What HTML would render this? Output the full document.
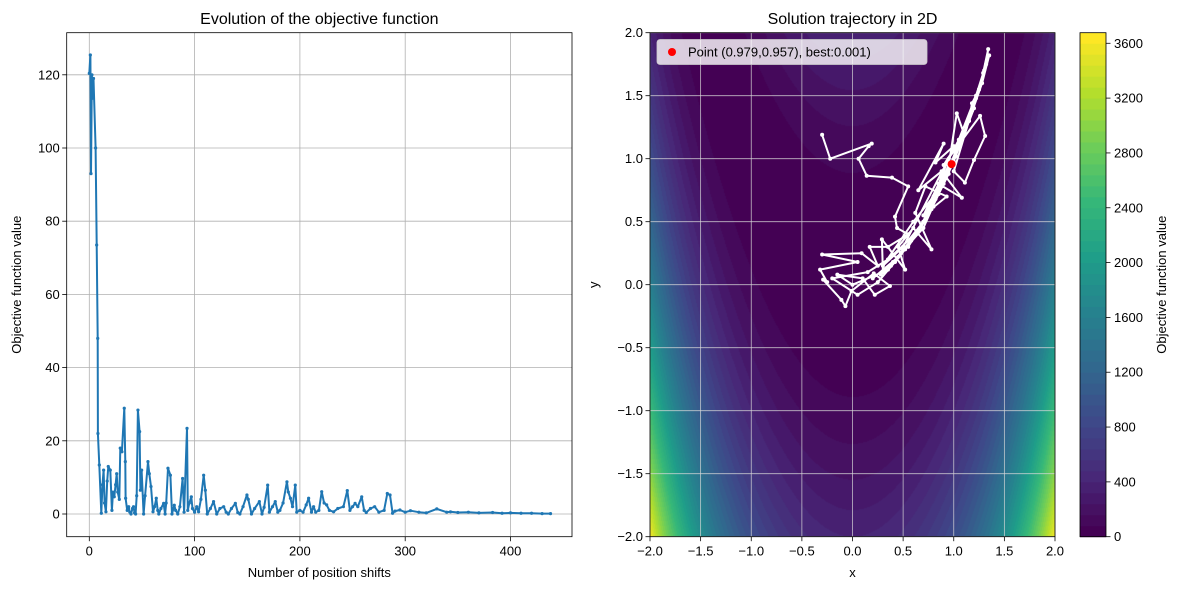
<!DOCTYPE html>
<html><head><meta charset="utf-8">
<style>
html,body{margin:0;padding:0;background:#fff;}
#wrap{position:relative;width:1179px;height:590px;overflow:hidden;font-family:"Liberation Sans","DejaVu Sans",sans-serif;}
canvas{position:absolute;left:650px;top:33px;}
svg{position:absolute;left:0;top:0;}
text{font-family:"Liberation Sans","DejaVu Sans",sans-serif;fill:#000;}
</style></head>
<body>
<div id="wrap">
<canvas id="cv" width="405" height="504"></canvas>
<svg id="sv" width="1179" height="590"></svg>
</div>
<script>
// ---- Left chart data ----
const iterIdx = [0,1,1.6,2.5,3,4,6,7,8,8.2,9.5,11.4,12.5,13.6,14.5,15.8,17,18,19.9,21.5,22.5,23.7,25,26,27,28.5,29.4,31,33.2,34.2,34.5,36,37.4,38.5,39.6,41,42,43,44,45,46.2,47.8,48.5,49.7,51.6,53,55.7,57,58.6,60.5,62,63.6,65,66,68,70.6,72,73,74.7,77,78.5,80.7,82,84,86,88.6,90,92.8,93.5,95,96.9,98,100,102,103.8,106,108.6,110.2,112,115,118,121,124,127.6,130,132,135,138.7,141,143,146,149.7,151,154,157,161.5,164,166,169.4,171,174,176.6,179,181,184,187.7,189,191,193,195.6,197,200,203,206,208.3,211,213,215,218,220.7,223,225.4,228,232,236,241.3,245,247.5,250,252.4,255,258.7,261,263,267,271,275,280,283,285.6,288,290.3,295,300,305,313,320,330,339.4,343,350,360,370,383,392,400,410,420,430,438];
const objValues = [120.4,125.4,93,120,113.6,119,100,73.5,48,22,13.4,0.2,8,12,3,0.6,9,13,12,1,6,4.7,8,11,6,4,18,17,28.9,14.3,4.3,1,2,0.5,0,1.5,2,0.3,0,5,28.4,22.5,6.5,12,0,5,14.3,11,7.5,0.6,2,4.3,1,0,1.5,2.9,0,3,12.5,10.6,0,2.4,1,0,2,9.7,0.5,23.4,1,3,4.7,1.5,0.5,2,0.6,4,10.6,6.5,0,1.5,3.4,0,1.5,2,0.5,0,1.5,2.9,0.4,0,2,5.2,4,0,1.5,3.4,0,1.8,7.9,0.5,2,3.4,0.5,1,3,8.8,6,4.3,2,7.9,0.5,1,0.5,2.5,4.3,0.5,2,0.5,1,6.1,3,2.5,1,0.6,1.5,2,6.4,1,2,2.9,2,4.7,1,0.4,1.5,2,0.5,1,5.6,5.2,0.2,0.8,1.1,0.5,0.9,0.5,0.3,1.4,0.5,0.6,0.4,0.5,0.3,0.4,0.2,0.3,0.2,0.2,0.1,0.1];
const leftXTicks = [0,100,200,300,400];
const leftYTicks = [0,20,40,60,80,100,120];
// ---- Right chart data ----
const trajX = [-0.30,-0.22,0.19,0.16,0.06,0.14,0.39,0.55,0.42,0.44,0.55,0.35,0.17,0.25,0.09,-0.30,0.05,-0.32,-0.25,-0.29,-0.11,-0.07,-0.01,0.21,0.37,0.22,0.10,-0.15,0.0,0.30,0.29,0.52,0.45,0.60,0.78,0.62,0.72,0.93,0.70,0.85,1.08,0.88,0.65,0.90,0.82,1.00,0.75,0.95,1.03,1.10,0.90,1.26,1.31,1.20,1.11,1.00,1.15,1.18,1.25,1.29,1.34,1.32,1.22,1.05,0.95,0.50,0.30,0.60,0.80,0.98,
 0.70,0.40,0.20,0.45,0.62,0.55,0.80,0.72,0.88,0.95,0.85,1.02,1.10,1.05,1.20,1.12,1.25,1.18,1.30,1.22,1.35,1.28,1.15,1.05,0.95,0.85,0.75,0.68,0.58,0.48,0.38,0.28,0.35,0.50,0.65,0.78,0.90,1.00,1.08,1.15,1.02,0.92,0.82,0.72,0.62,0.52,0.42,0.25,0.05,-0.20,0.15,0.35,0.55,0.70,0.85,0.98];
const trajY = [1.19,1.00,1.12,1.10,1.00,0.865,0.85,0.78,0.54,0.45,0.40,0.30,0.30,0.15,0.25,0.24,0.18,0.12,0.02,0.04,-0.12,-0.17,-0.05,0.09,-0.01,-0.08,0.05,0.08,0.0,0.10,0.36,0.12,0.30,0.45,0.28,0.57,0.78,0.70,0.55,0.80,0.69,0.90,0.75,1.12,0.97,1.10,0.60,0.95,1.36,1.20,0.95,1.34,1.18,0.99,0.81,0.90,1.30,1.44,1.55,1.68,1.87,1.75,1.50,1.15,1.00,0.30,0.15,0.50,0.70,0.96,
 0.45,0.18,0.05,0.22,0.40,0.30,0.62,0.52,0.78,0.88,0.72,1.02,1.20,1.08,1.40,1.25,1.55,1.38,1.70,1.48,1.82,1.60,1.30,1.12,0.92,0.75,0.58,0.48,0.35,0.25,0.15,0.08,0.12,0.28,0.42,0.60,0.80,0.98,1.15,1.30,1.05,0.85,0.68,0.52,0.40,0.28,0.18,0.02,-0.08,0.05,0.10,0.20,0.35,0.50,0.72,0.96];
const bestPoint = [0.979,0.957];
const rightTicks = [-2.0,-1.5,-1.0,-0.5,0.0,0.5,1.0,1.5,2.0];
const cbarTicks = [0,400,800,1200,1600,2000,2400,2800,3200,3600];

// ---- Geometry ----
const L = {x0:66.7,x1:572,y0:32.7,y1:536.7};
const lx = v => 89.3 + v*1.053;
const ly = v => 514 - v*3.66;
const R = {x0:650,x1:1055,y0:32.7,y1:536.7};
const rx = v => 852.5 + v*101.25;
const ry = v => 284.7 - v*126;
const CB = {x0:1080,x1:1106,y0:32.7,y1:536.7};
const cby = v => 536.7 - v*0.13706;
const LEVEL=80, NLEV=46;

const vir=[[68,1,84],[72,40,120],[62,73,137],[49,104,142],[38,130,142],[31,158,137],[53,183,121],[109,205,89],[180,222,44],[253,231,37]];
function viridis(t){t=Math.max(0,Math.min(1,t));const p=t*(vir.length-1);const i=Math.min(Math.floor(p),vir.length-2);const f=p-i;
 return vir[i].map((c,k)=>Math.round(c+(vir[i+1][k]-c)*f));}
function levColor(v){const k=Math.min(NLEV-1,Math.floor(v/LEVEL));return viridis(k/(NLEV-1));}
const rosen=(x,y)=>(1-x)*(1-x)+100*(y-x*x)*(y-x*x);

const cv=document.getElementById('cv');const ctx=cv.getContext('2d');
const img=ctx.createImageData(405,504);
for(let j=0;j<504;j++){for(let i=0;i<405;i++){
 const x=(650+i+0.5-852.5)/101.25, y=(284.7-(32.7+j+0.5))/126;
 const c=levColor(rosen(x,y));const o=(j*405+i)*4;
 img.data[o]=c[0];img.data[o+1]=c[1];img.data[o+2]=c[2];img.data[o+3]=255;}}
ctx.putImageData(img,0,0);

const NS='http://www.w3.org/2000/svg';
const sv=document.getElementById('sv');
function mk(tag,attrs,parent){const e=document.createElementNS(NS,tag);for(const k in attrs)e.setAttribute(k,attrs[k]);(parent||sv).appendChild(e);return e;}
function txt(s,attrs,parent){const e=mk('text',attrs,parent);e.textContent=s;return e;}

// ===== Left chart =====
const gL=mk('g',{});


leftXTicks.forEach(t=>{
 const l=mk('line',{x1:lx(t),x2:lx(t),y1:L.y0,y2:L.y1,stroke:'#b0b0b0','stroke-width':0.8},gL);
 
 
 mk('line',{x1:lx(t),x2:lx(t),y1:L.y1,y2:L.y1+4.5,stroke:'#000','stroke-width':0.8},gL);
 const tl=txt(String(t),{x:lx(t),y:L.y1+19,'font-size':13,'text-anchor':'middle'},gL);
 
 
});
leftYTicks.forEach(t=>{
 const l=mk('line',{x1:L.x0,x2:L.x1,y1:ly(t),y2:ly(t),stroke:'#b0b0b0','stroke-width':0.8},gL);
 
 
 mk('line',{x1:L.x0-4.5,x2:L.x0,y1:ly(t),y2:ly(t),stroke:'#000','stroke-width':0.8},gL);
 const tl=txt(String(t),{x:L.x0-7,y:ly(t)+4.5,'font-size':13,'text-anchor':'end'},gL);
 
 
});
const nL=Math.min(iterIdx.length,objValues.length);
const pts=iterIdx.slice(0,nL).map((v,i)=>lx(v).toFixed(1)+','+ly(objValues[i]).toFixed(1)).join(' ');
const line=mk('polyline',{points:pts,fill:'none',stroke:'#1f77b4','stroke-width':2,'stroke-linejoin':'round'},gL);


iterIdx.slice(0,nL).forEach((v,i)=>{
 const c=mk('circle',{cx:lx(v),cy:ly(objValues[i]),r:1.6,fill:'#1f77b4'},gL);
 
 
});
const fL=mk('rect',{x:L.x0,y:L.y0,width:L.x1-L.x0,height:L.y1-L.y0,fill:'none',stroke:'#000','stroke-width':0.8},gL);


const t1=txt('Evolution of the objective function',{x:(L.x0+L.x1)/2,y:24,'font-size':16,'text-anchor':'middle'},gL);


const xl1=txt('Number of position shifts',{x:(L.x0+L.x1)/2,y:577,'font-size':13,'text-anchor':'middle'},gL);


const yl1=txt('Objective function value',{x:0,y:0,'font-size':13,'text-anchor':'middle',transform:'translate(21,284.7) rotate(-90)'},gL);



// ===== Right chart =====
const gR=mk('g',{});


rightTicks.forEach(t=>{
 const l=mk('line',{x1:rx(t),x2:rx(t),y1:R.y0,y2:R.y1,stroke:'#d8d8d8','stroke-width':0.8,'stroke-opacity':0.85},gR);
 
 
 const l2=mk('line',{x1:R.x0,x2:R.x1,y1:ry(t),y2:ry(t),stroke:'#d8d8d8','stroke-width':0.8,'stroke-opacity':0.85},gR);
 
 
 mk('line',{x1:rx(t),x2:rx(t),y1:R.y1,y2:R.y1+4.5,stroke:'#000','stroke-width':0.8},gR);
 mk('line',{x1:R.x0-4.5,x2:R.x0,y1:ry(t),y2:ry(t),stroke:'#000','stroke-width':0.8},gR);
 const lab=(t<0?'\u2212':'')+Math.abs(t).toFixed(1);
 const a=txt(lab,{x:rx(t),y:R.y1+19,'font-size':13,'text-anchor':'middle'},gR);
 
 
 const b=txt(lab,{x:R.x0-7,y:ry(t)+4.5,'font-size':13,'text-anchor':'end'},gR);
 
 
});
const nT=Math.min(trajX.length,trajY.length);
const tp=trajX.slice(0,nT).map((v,i)=>rx(v).toFixed(1)+','+ry(trajY[i]).toFixed(1)).join(' ');
const tl=mk('polyline',{points:tp,fill:'none',stroke:'#fff','stroke-width':2,'stroke-linejoin':'round'},gR);


trajX.slice(0,nT).forEach((v,i)=>{
 const c=mk('circle',{cx:rx(v),cy:ry(trajY[i]),r:2,fill:'#fff'},gR);
 
 
});
const bp=mk('circle',{cx:rx(bestPoint[0]),cy:ry(bestPoint[1]),r:4,fill:'#ff0000'},gR);


const fR=mk('rect',{x:R.x0,y:R.y0,width:R.x1-R.x0,height:R.y1-R.y0,fill:'none',stroke:'#000','stroke-width':0.8},gR);


const lg=mk('g',{},gR);


mk('rect',{x:657,y:39.5,width:270,height:25,rx:3,fill:'#ffffff','fill-opacity':0.8,stroke:'#cccccc','stroke-width':0.8},lg);
const ld=mk('circle',{cx:672,cy:52,r:4,fill:'#ff0000'},lg);


const lt=txt('Point (0.979,0.957), best:0.001)',{x:688,y:56.5,'font-size':13},lg);


const t2=txt('Solution trajectory in 2D',{x:(R.x0+R.x1)/2,y:24,'font-size':16,'text-anchor':'middle'},gR);


const xl2=txt('x',{x:(R.x0+R.x1)/2,y:577,'font-size':13,'text-anchor':'middle'},gR);


const yl2=txt('y',{x:0,y:0,'font-size':13,'text-anchor':'middle',transform:'translate(598,284.7) rotate(-90)'},gR);



// ===== Colorbar =====
const gC=mk('g',{});


for(let k=0;k<NLEV;k++){
 const c=viridis(k/(NLEV-1));
 const y1=cby(k*LEVEL), y2=Math.max(CB.y0,cby((k+1)*LEVEL));
 const r=mk('rect',{x:CB.x0,y:y2,width:CB.x1-CB.x0,height:y1-y2+0.5,fill:`rgb(${c[0]},${c[1]},${c[2]})`},gC);
 
 
}
mk('rect',{x:CB.x0,y:CB.y0,width:CB.x1-CB.x0,height:CB.y1-CB.y0,fill:'none',stroke:'#000','stroke-width':0.8},gC);
cbarTicks.forEach(t=>{
 mk('line',{x1:CB.x1,x2:CB.x1+4.5,y1:cby(t),y2:cby(t),stroke:'#000','stroke-width':0.8},gC);
 const a=txt(String(t),{x:CB.x1+8,y:cby(t)+4.5,'font-size':13},gC);
 
 
});
const cl=txt('Objective function value',{x:0,y:0,'font-size':13,'text-anchor':'middle',transform:'translate(1166,284.7) rotate(-90)'},gC);


</script>
</body></html>
